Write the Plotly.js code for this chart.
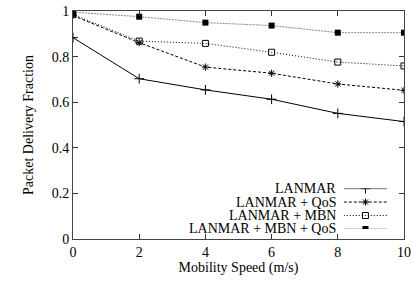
<!DOCTYPE html>
<html><head><meta charset="utf-8">
<script src="https://cdn.plot.ly/plotly-3.0.1.min.js"></script>
<style>html,body{margin:0;padding:0;background:#fff}#c{width:413px;height:286px}</style>
</head><body><div id="c"></div>
<script>
const speeds = [0, 2, 4, 6, 8, 10];
const seriesNames = ["LANMAR", "LANMAR + QoS", "LANMAR + MBN", "LANMAR + MBN + QoS"];
const lanmar = [0.883, 0.703, 0.654, 0.613, 0.551, 0.515];
const lanmarQos = [0.980, 0.861, 0.754, 0.727, 0.680, 0.652];
const lanmarMbn = [0.985, 0.868, 0.858, 0.819, 0.776, 0.759];
const lanmarMbnQos = [0.995, 0.975, 0.949, 0.936, 0.905, 0.905];
const xTicks = [0, 2, 4, 6, 8, 10];
const yTicks = [0, 0.2, 0.4, 0.6, 0.8, 1];
const yTickText = ["0", "0.2", "0.4", "0.6", "0.8", "1"];

const values = [lanmar, lanmarQos, lanmarMbn, lanmarMbnQos];
const styles = [
  {color:'#000', dash:'solid', symbol:'cross-thin-open', size:7, mcolor:'#000', mlw:1},
  {color:'#000', dash:'3px,2px', symbol:'asterisk-open', size:6, mcolor:'#000', mlw:1},
  {color:'#000', dash:'1px,2px', symbol:'square-open', size:6, mcolor:'#000', mlw:1},
  {color:'#888', dash:'2px,1px', symbol:'square', size:6, mcolor:'#000', mlw:0}
];
const font = "Liberation Serif, Times New Roman, serif";
const legDomY = [0.044, 0.221];
const traces = [];
values.forEach((v, i) => {
  const s = styles[i];
  traces.push({x: speeds, y: v, type:'scatter', mode:'lines+markers', name: seriesNames[i],
    line:{color:s.color, width:1, dash:s.dash},
    marker:{symbol:s.symbol, size:s.size, color:s.mcolor, line:{color:s.mcolor, width:s.mlw}},
    showlegend:false, hoverinfo:'skip'});
  // legend sample
  traces.push({x:[0,1,2], y:[i,i,i], xaxis:'x2', yaxis:'y2', type:'scatter', mode:'lines+markers',
    line:{color:s.color, width:1, dash:s.dash},
    marker:{symbol:s.symbol, size:s.size, color:s.mcolor, line:{color:s.mcolor, width:s.mlw}, opacity:[0,1,0]},
    showlegend:false, hoverinfo:'skip'});
});
const annotations = seriesNames.map((n, i) => ({
  xref:'paper', yref:'paper', x:0.798, y: legDomY[1] - i*(legDomY[1]-legDomY[0])/3,
  text:n, showarrow:false, xanchor:'right', yanchor:'middle', height:13, borderpad:0,
  font:{family:font, size:14, color:'#000'}
}));
const axisCommon = {showgrid:false, zeroline:false, ticks:'inside', ticklen:5, tickwidth:1, tickcolor:'#333',
  showline:true, linecolor:'#444', linewidth:1, mirror:'allticks',
  tickfont:{family:font, size:14, color:'#000'}};
const layout = {
  width:413, height:286, margin:{l:73, r:9, t:11, b:47},
  paper_bgcolor:'#fff', plot_bgcolor:'#fff', showlegend:false,
  xaxis: Object.assign({}, axisCommon, {range:[0,10], tickvals:xTicks, ticktext:xTicks.map(String),
    title:{text:'Mobility Speed (m/s)', font:{family:font, size:14, color:'#000'}, standoff:3}}),
  yaxis: Object.assign({}, axisCommon, {range:[0,1], tickvals:yTicks, ticktext:yTickText,
    title:{text:'Packet Delivery Fraction', font:{family:font, size:14, color:'#000'}, standoff:14}}),
  xaxis2: {domain:[0.818, 0.949], range:[0,2], visible:false, fixedrange:true, anchor:'y2'},
  yaxis2: {domain:legDomY, range:[3,0], visible:false, fixedrange:true, anchor:'x2'},
  annotations: annotations
};
Plotly.newPlot('c', traces, layout, {displayModeBar:false, staticPlot:true});
</script></body></html>
